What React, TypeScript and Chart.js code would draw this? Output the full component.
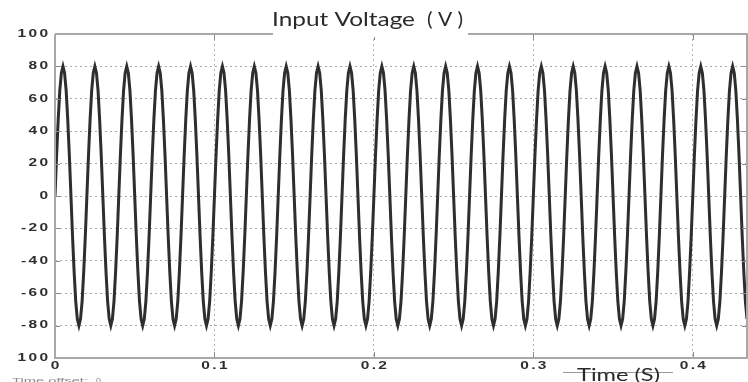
import React, { useEffect, useRef } from "react";
import { Chart, registerables } from "chart.js";

Chart.register(...registerables);

// Sampling step of the recorded waveform (seconds)
const sampleStep = 0.001;

// Input voltage samples (V), one row per 20 ms cycle
const voltage: number[] = [
  0, 25, 47, 65, 76, 80, 76, 65, 47, 25, 0, -25, -47, -65, -76, -80, -76, -65, -47, -25,
  0, 25, 47, 65, 76, 80, 76, 65, 47, 25, 0, -25, -47, -65, -76, -80, -76, -65, -47, -25,
  0, 25, 47, 65, 76, 80, 76, 65, 47, 25, 0, -25, -47, -65, -76, -80, -76, -65, -47, -25,
  0, 25, 47, 65, 76, 80, 76, 65, 47, 25, 0, -25, -47, -65, -76, -80, -76, -65, -47, -25,
  0, 25, 47, 65, 76, 80, 76, 65, 47, 25, 0, -25, -47, -65, -76, -80, -76, -65, -47, -25,
  0, 25, 47, 65, 76, 80, 76, 65, 47, 25, 0, -25, -47, -65, -76, -80, -76, -65, -47, -25,
  0, 25, 47, 65, 76, 80, 76, 65, 47, 25, 0, -25, -47, -65, -76, -80, -76, -65, -47, -25,
  0, 25, 47, 65, 76, 80, 76, 65, 47, 25, 0, -25, -47, -65, -76, -80, -76, -65, -47, -25,
  0, 25, 47, 65, 76, 80, 76, 65, 47, 25, 0, -25, -47, -65, -76, -80, -76, -65, -47, -25,
  0, 25, 47, 65, 76, 80, 76, 65, 47, 25, 0, -25, -47, -65, -76, -80, -76, -65, -47, -25,
  0, 25, 47, 65, 76, 80, 76, 65, 47, 25, 0, -25, -47, -65, -76, -80, -76, -65, -47, -25,
  0, 25, 47, 65, 76, 80, 76, 65, 47, 25, 0, -25, -47, -65, -76, -80, -76, -65, -47, -25,
  0, 25, 47, 65, 76, 80, 76, 65, 47, 25, 0, -25, -47, -65, -76, -80, -76, -65, -47, -25,
  0, 25, 47, 65, 76, 80, 76, 65, 47, 25, 0, -25, -47, -65, -76, -80, -76, -65, -47, -25,
  0, 25, 47, 65, 76, 80, 76, 65, 47, 25, 0, -25, -47, -65, -76, -80, -76, -65, -47, -25,
  0, 25, 47, 65, 76, 80, 76, 65, 47, 25, 0, -25, -47, -65, -76, -80, -76, -65, -47, -25,
  0, 25, 47, 65, 76, 80, 76, 65, 47, 25, 0, -25, -47, -65, -76, -80, -76, -65, -47, -25,
  0, 25, 47, 65, 76, 80, 76, 65, 47, 25, 0, -25, -47, -65, -76, -80, -76, -65, -47, -25,
  0, 25, 47, 65, 76, 80, 76, 65, 47, 25, 0, -25, -47, -65, -76, -80, -76, -65, -47, -25,
  0, 25, 47, 65, 76, 80, 76, 65, 47, 25, 0, -25, -47, -65, -76, -80, -76, -65, -47, -25,
  0, 25, 47, 65, 76, 80, 76, 65, 47, 25, 0, -25, -47, -65, -76, -80, -76, -65, -47, -25,
  0, 25, 47, 65, 76, 80, 76, 65, 47, 25, 0, -25, -47, -65, -76,
];

const xMin = 0;
const xMax = 0.434;
const yMin = -100;
const yMax = 100;

const xTickValues = [0, 0.1, 0.2, 0.3, 0.4];
const xTickLabels = ["0", "0.1", "0.2", "0.3", "0.4"];
const yTickValues = [100, 80, 60, 40, 20, 0, -20, -40, -60, -80, -100];
const yTickLabels = ["100", "80", "60", "40", "20", "0", "-20", "-40", "-60", "-80", "100"];

const titleMain = "Input Voltage";
const titleUnit = "( V )";
const xAxisTitle = "Time (S)";
const offsetLabel = "Time offset:";
const offsetValue = "0";

function drawFit(
  ctx: CanvasRenderingContext2D,
  text: string,
  left: number,
  baseline: number,
  font: string,
  width: number,
  color: string
) {
  ctx.save();
  ctx.font = font;
  ctx.fillStyle = color;
  ctx.textAlign = "left";
  ctx.textBaseline = "alphabetic";
  const w = ctx.measureText(text).width;
  const sx = width / w;
  ctx.translate(left, baseline);
  ctx.scale(sx, 1);
  ctx.fillText(text, 0, 0);
  ctx.restore();
}

function drawTick(
  ctx: CanvasRenderingContext2D,
  text: string,
  x: number,
  y: number,
  align: "left" | "right" | "center"
) {
  ctx.save();
  ctx.font = "bold 10px 'Liberation Sans'";
  (ctx as any).letterSpacing = "1.5px";
  ctx.fillStyle = "#2e2e2e";
  ctx.textAlign = "left";
  ctx.textBaseline = "middle";
  const sx = 1.55;
  const w = (ctx.measureText(text).width - 1.5) * sx;
  const left = align === "left" ? x : align === "right" ? x - w : x - w / 2;
  ctx.translate(left, y);
  ctx.scale(sx, 1);
  ctx.fillText(text, 0, 0);
  ctx.restore();
}

const decor = {
  id: "decor",
  afterDraw(chart: any) {
    const ctx: CanvasRenderingContext2D = chart.ctx;
    const a = chart.chartArea;
    const xs = chart.scales.x;
    const ys = chart.scales.y;

    ctx.save();
    // tick marks
    ctx.strokeStyle = "#8a8a8a";
    ctx.lineWidth = 1;
    ctx.beginPath();
    yTickValues.forEach((v) => {
      const y = Math.round(ys.getPixelForValue(v)) + 0.5;
      ctx.moveTo(a.left, y);
      ctx.lineTo(a.left + 5, y);
      ctx.moveTo(a.right - 5, y);
      ctx.lineTo(a.right, y);
    });
    xTickValues.forEach((v) => {
      const x = Math.round(xs.getPixelForValue(v)) + 0.5;
      ctx.moveTo(x, a.bottom);
      ctx.lineTo(x, a.bottom - 6);
      ctx.moveTo(x, a.top);
      ctx.lineTo(x, a.top + 6);
    });
    ctx.stroke();

    // frame
    ctx.strokeStyle = "#a8a8a8";
    ctx.lineWidth = 2;
    ctx.beginPath();
    ctx.moveTo(a.left, a.top);
    ctx.lineTo(a.left, a.bottom);
    ctx.lineTo(a.right, a.bottom);
    ctx.lineTo(a.right, a.top);
    ctx.lineTo(a.left, a.top);
    ctx.stroke();

    // title box
    ctx.fillStyle = "#ffffff";
    ctx.fillRect(273, 28, 195, 9);
    ctx.restore();

    // tick labels
    yTickValues.forEach((v, i) => {
      drawTick(ctx, yTickLabels[i], 48, ys.getPixelForValue(v), "right");
    });
    xTickValues.forEach((v, i) => {
      drawTick(ctx, xTickLabels[i], xs.getPixelForValue(v), 366, "center");
    });

    // title
    drawFit(ctx, titleMain, 272, 26, "20px Lato", 143, "#2a2a2a");
    drawFit(ctx, titleUnit, 427, 26, "20px Lato", 36, "#2a2a2a");

    // x-axis title with its bar
    ctx.save();
    ctx.strokeStyle = "#9a9a9a";
    ctx.lineWidth = 1;
    ctx.beginPath();
    ctx.moveTo(563, 372.5);
    ctx.lineTo(673, 372.5);
    ctx.stroke();
    ctx.restore();
    drawFit(ctx, xAxisTitle, 577, 381, "18px Lato", 83, "#2a2a2a");

    // time offset note
    drawFit(ctx, offsetLabel, 12, 383, "8px 'Liberation Sans'", 76, "#8a8a8a");
    drawFit(ctx, offsetValue, 96, 383, "8px 'Liberation Sans'", 5, "#8a8a8a");
  },
};

export default function App() {
  const canvasRef = useRef<HTMLCanvasElement | null>(null);

  useEffect(() => {
    const canvas = canvasRef.current;
    if (!canvas) return;
    const points = voltage.map((v, i) => ({ x: i * sampleStep, y: v }));
    const chart = new Chart(canvas, {
      type: "line",
      data: {
        datasets: [
          {
            data: points,
            borderColor: "#2e2e2e",
            borderWidth: 3,
            pointRadius: 0,
            tension: 0,
            fill: false,
          },
        ],
      },
      options: {
        animation: false,
        responsive: false,
        maintainAspectRatio: false,
        devicePixelRatio: 1,
        layout: { padding: { left: 55, top: 34, right: 1, bottom: 24 } },
        plugins: {
          legend: { display: false },
          title: { display: false },
          tooltip: { enabled: false },
        },
        scales: {
          x: {
            type: "linear",
            min: xMin,
            max: xMax,
            afterBuildTicks: (s: any) => {
              s.ticks = xTickValues.map((v) => ({ value: v }));
            },
            ticks: { display: false },
            grid: { color: "#b4b4b4", lineWidth: 1, drawTicks: false },
            border: { display: false, dash: [2, 3] },
          },
          y: {
            type: "linear",
            min: yMin,
            max: yMax,
            afterBuildTicks: (s: any) => {
              s.ticks = yTickValues.map((v) => ({ value: v }));
            },
            ticks: { display: false },
            grid: { color: "#a8a8a8", lineWidth: 1, drawTicks: false },
            border: { display: false, dash: [2, 3] },
          },
        },
      } as any,
      plugins: [decor],
    });
    return () => chart.destroy();
  }, []);

  return (
    <div style={{ position: "fixed", left: 0, top: 0, width: 748, height: 382, background: "#fff" }}>
      <canvas ref={canvasRef} width={748} height={382} style={{ display: "block" }} />
    </div>
  );
}
